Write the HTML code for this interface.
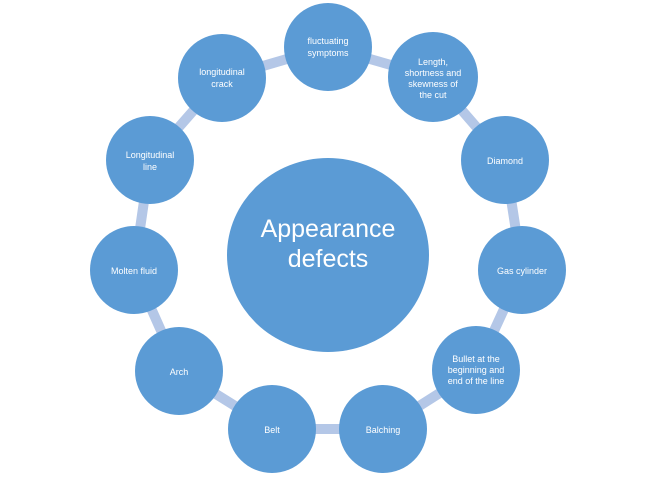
<!DOCTYPE html>
<html><head><style>body{margin:0;background:#fff}svg text{font-family:"Liberation Sans",sans-serif;fill:#fff}</style></head>
<body>
<svg width="655" height="477" viewBox="0 0 655 477">
<g stroke="#b4c7e7" stroke-width="10">
<polyline fill="none" points="328,47 433,77 505,160 522,270 476,370 383,429 272,429 179,371 134,270 150,160 222,78 328,47"/>
</g>
<g fill="#5b9bd5">
<ellipse cx="328" cy="255" rx="101" ry="97"/>
<circle cx="328" cy="47" r="44"/>
<circle cx="433" cy="77" r="45"/>
<circle cx="505" cy="160" r="44"/>
<circle cx="522" cy="270" r="44"/>
<circle cx="476" cy="370" r="44"/>
<circle cx="383" cy="429" r="44"/>
<circle cx="272" cy="429" r="44"/>
<circle cx="179" cy="371" r="44"/>
<circle cx="134" cy="270" r="44"/>
<circle cx="150" cy="160" r="44"/>
<circle cx="222" cy="78" r="44"/>
</g>
<g font-size="9" text-anchor="middle">
<text x="328" y="44">fluctuating</text><text x="328" y="56">symptoms</text>
<text x="433" y="65">Length,</text><text x="433" y="76">shortness and</text><text x="433" y="87">skewness of</text><text x="433" y="98">the cut</text>
<text x="505" y="164">Diamond</text>
<text x="522" y="274">Gas cylinder</text>
<text x="476" y="362">Bullet at the</text><text x="476" y="373">beginning and</text><text x="476" y="384">end of the line</text>
<text x="383" y="433">Balching</text>
<text x="272" y="433">Belt</text>
<text x="179" y="375">Arch</text>
<text x="134" y="274">Molten fluid</text>
<text x="150" y="158">Longitudinal</text><text x="150" y="170">line</text>
<text x="222" y="75">longitudinal</text><text x="222" y="87">crack</text>
</g>
<g font-size="25" text-anchor="middle">
<text x="328" y="237">Appearance</text><text x="328" y="267">defects</text>
</g>
</svg>
</body></html>
